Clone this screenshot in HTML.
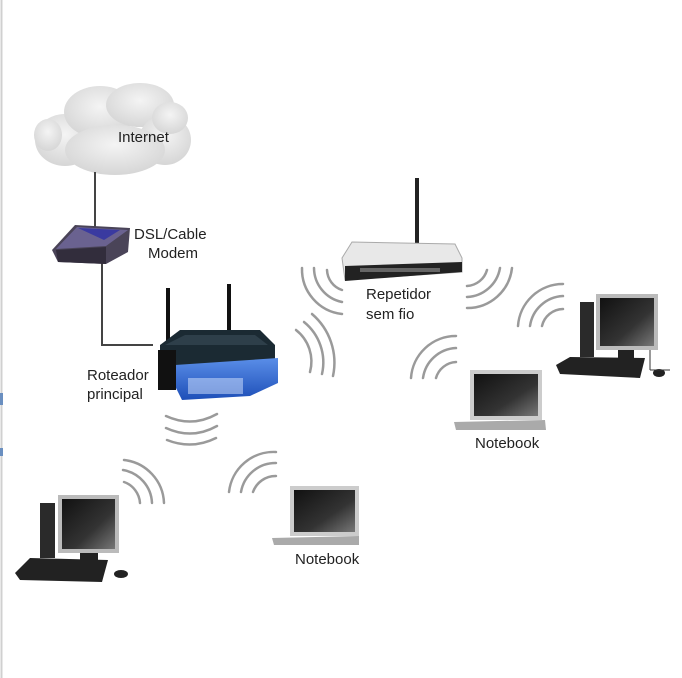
<!DOCTYPE html>
<html><head><meta charset="utf-8"><style>
html,body{margin:0;padding:0;background:#fff;}
svg{display:block;}
text{font-family:"Liberation Sans",Arial,sans-serif;font-size:15px;fill:#222;}
</style></head><body>
<svg width="682" height="678" viewBox="0 0 682 678" xmlns="http://www.w3.org/2000/svg">
<defs>
<radialGradient id="cl" cx="50%" cy="40%" r="60%"><stop offset="0" stop-color="#f4f4f4"/><stop offset="1" stop-color="#d6d6d6"/></radialGradient>
<linearGradient id="scr" x1="0" y1="0" x2="1" y2="1"><stop offset="0" stop-color="#111"/><stop offset="0.6" stop-color="#333"/><stop offset="1" stop-color="#777"/></linearGradient>
<linearGradient id="blue" x1="0" y1="0" x2="0" y2="1"><stop offset="0" stop-color="#5a8ee8"/><stop offset="1" stop-color="#1e4fb8"/></linearGradient>
</defs>
<rect width="682" height="678" fill="#fff"/>
<line x1="1.5" y1="0" x2="1.5" y2="678" stroke="#d0d0d0" stroke-width="2"/>
<rect x="0" y="393" width="3" height="12" fill="#6a8fc0"/>
<rect x="0" y="448" width="3" height="8" fill="#6a8fc0"/>
<!-- cloud -->
<g fill="url(#cl)">
<ellipse cx="65" cy="140" rx="30" ry="26"/>
<ellipse cx="100" cy="112" rx="36" ry="26"/>
<ellipse cx="140" cy="105" rx="34" ry="22"/>
<ellipse cx="165" cy="140" rx="26" ry="25"/>
<ellipse cx="115" cy="150" rx="50" ry="25"/>
<ellipse cx="48" cy="135" rx="14" ry="16"/>
<ellipse cx="170" cy="118" rx="18" ry="16"/>
</g>
<text x="118" y="142">Internet</text>
<!-- wires -->
<line x1="95" y1="172" x2="95" y2="232" stroke="#444" stroke-width="2"/>
<polyline points="102,262 102,345 153,345" fill="none" stroke="#444" stroke-width="2"/>
<!-- modem -->
<polygon points="52,250 75,225 130,228 128,252 106,264 58,262" fill="#4a4458"/>
<polygon points="56,249 77,227 128,230 106,246" fill="#6a6290"/>
<polygon points="78,228 120,230 104,240" fill="#3a3aa0"/>
<polygon points="56,250 106,247 106,264 58,262" fill="#322d3c"/>
<text x="134" y="239">DSL/Cable</text>
<text x="148" y="258">Modem</text>
<!-- router -->
<line x1="168" y1="288" x2="168" y2="345" stroke="#111" stroke-width="4"/>
<line x1="229" y1="284" x2="229" y2="336" stroke="#111" stroke-width="4"/>
<polygon points="160,345 180,330 260,330 275,345 275,365 160,370" fill="#1b2a33"/>
<polygon points="165,345 185,335 255,335 268,345" fill="#2e3f4a"/>
<polygon points="175,365 278,358 278,383 250,396 182,400 176,388" fill="url(#blue)"/>
<rect x="188" y="378" width="55" height="16" fill="#d8e6ff" opacity="0.5"/>
<rect x="158" y="350" width="18" height="40" fill="#111"/>
<text x="87" y="380">Roteador</text>
<text x="87" y="399">principal</text>
<!-- repeater -->
<line x1="417" y1="178" x2="417" y2="245" stroke="#222" stroke-width="4"/>
<polygon points="342,258 352,242 455,244 462,258 462,272 345,280" fill="#e8e8e8" stroke="#aaa"/>
<polygon points="345,266 462,262 462,272 345,281" fill="#222"/>
<rect x="360" y="268" width="80" height="4" fill="#666"/>
<text x="366" y="299">Repetidor</text>
<text x="366" y="319">sem fio</text>
<!-- waves -->
<g fill="none" stroke="#9a9a9a" stroke-width="2.5" stroke-linecap="round">
<path d="M296 330 A40 40 0 0 1 310 372"/><path d="M304 322 A52 52 0 0 1 322 374"/><path d="M312 314 A64 64 0 0 1 333 376"/>
<path d="M166 416 Q192 428 217 414"/><path d="M166 428 Q192 440 217 426"/><path d="M167 440 Q192 450 216 438"/>
<path d="M124 460 A45 45 0 0 1 164 503"/><path d="M123 470 A35 35 0 0 1 152 503"/><path d="M124 482 A24 24 0 0 1 140 503"/>
<path d="M229 492 A45 45 0 0 1 276 452"/><path d="M241 492 A35 35 0 0 1 276 463"/><path d="M253 492 A24 24 0 0 1 276 476"/>
<path d="M302 268 A45 45 0 0 0 342 314"/><path d="M314 268 A35 35 0 0 0 342 302"/><path d="M327 270 A22 22 0 0 0 342 290"/>
<path d="M467 308 A45 45 0 0 0 512 268"/><path d="M467 297 A35 35 0 0 0 500 268"/><path d="M467 286 A22 22 0 0 0 487 270"/>
<path d="M518 326 A45 45 0 0 1 563 284"/><path d="M530 326 A35 35 0 0 1 563 296"/><path d="M542 326 A22 22 0 0 1 563 309"/>
<path d="M411 378 A45 45 0 0 1 456 336"/><path d="M423 378 A35 35 0 0 1 456 348"/><path d="M436 378 A22 22 0 0 1 456 362"/>
</g>
<!-- PC right -->
<g>
<rect x="580" y="302" width="14" height="55" fill="#2a2a2a"/>
<rect x="596" y="294" width="62" height="56" fill="#bbb"/>
<rect x="600" y="298" width="54" height="48" fill="url(#scr)"/>
<rect x="618" y="350" width="16" height="12" fill="#222"/>
<polygon points="556,365 570,357 645,358 640,378 560,374" fill="#222"/>
<ellipse cx="659" cy="373" rx="6" ry="4" fill="#222"/>
<line x1="650" y1="350" x2="650" y2="370" stroke="#333"/>
<line x1="650" y1="370" x2="670" y2="370" stroke="#333"/>
</g>
<!-- notebook right -->
<rect x="470" y="370" width="72" height="50" fill="#ccc"/>
<rect x="474" y="374" width="64" height="42" fill="url(#scr)"/>
<polygon points="454,422 545,420 546,430 456,430" fill="#aaa"/>
<text x="475" y="448">Notebook</text>
<!-- PC left -->
<g>
<rect x="40" y="503" width="15" height="55" fill="#2a2a2a"/>
<rect x="58" y="495" width="61" height="58" fill="#bbb"/>
<rect x="62" y="499" width="53" height="50" fill="url(#scr)"/>
<rect x="80" y="553" width="18" height="12" fill="#222"/>
<polygon points="15,573 30,558 108,560 102,582 20,580" fill="#222"/>
<ellipse cx="121" cy="574" rx="7" ry="4" fill="#222"/>
</g>
<!-- notebook bottom -->
<rect x="290" y="486" width="69" height="50" fill="#ccc"/>
<rect x="294" y="490" width="61" height="42" fill="url(#scr)"/>
<polygon points="272,538 359,536 359,545 274,545" fill="#aaa"/>
<text x="295" y="564">Notebook</text>
</svg>
</body></html>
